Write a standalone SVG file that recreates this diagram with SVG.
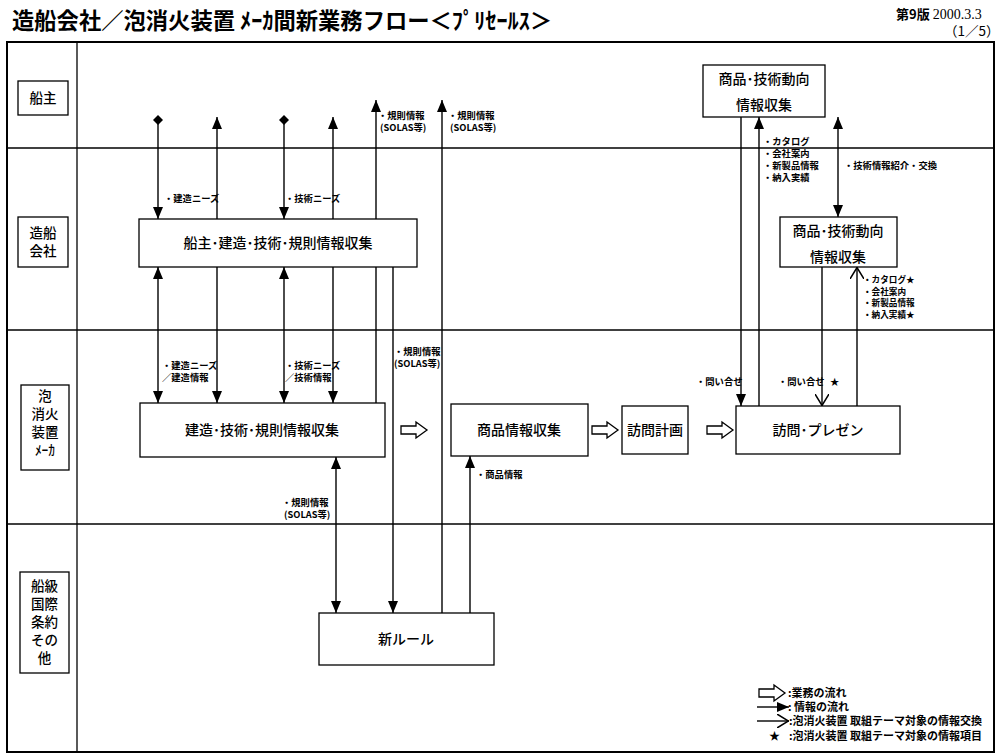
<svg xmlns="http://www.w3.org/2000/svg" width="1000" height="756" viewBox="0 0 1000 756">
<style>
  .frame{fill:none;stroke:#000;stroke-width:2}
  .lane{stroke:#000;stroke-width:1.3}
  .box{fill:#fff;stroke:#000;stroke-width:1.3}
  .lbox{fill:#fff;stroke:#000;stroke-width:1.3}
  .t{font-family:"Noto Sans CJK JP","Noto Sans CJK SC",sans-serif;fill:#000}
  .node{font-size:14px;text-anchor:middle;font-weight:500}
  .lanet{font-size:13.5px;text-anchor:middle;font-weight:500}
  .sm{font-size:9.3px;font-weight:bold}
  .sm2{font-size:8.6px;font-weight:bold}
  .leg{font-size:11px;font-weight:bold}
  .c{fill:none;stroke:#000;stroke-width:1.4}
  .blk{fill:#fff;stroke:#000;stroke-width:1.3}
</style>
<defs>
  <marker id="ar" viewBox="0 0 12 10" refX="12" refY="5" markerWidth="12" markerHeight="10" markerUnits="userSpaceOnUse" orient="auto-start-reverse">
    <path d="M0,0 L12,5 L0,10 Z" fill="#000"/>
  </marker>
  <marker id="dm" viewBox="0 0 10 10" refX="5" refY="5" markerWidth="10" markerHeight="10" markerUnits="userSpaceOnUse" orient="auto">
    <path d="M0,5 L5,0 L10,5 L5,10 Z" fill="#000"/>
  </marker>
  <marker id="vv" viewBox="0 0 12 14" refX="12" refY="7" markerWidth="12" markerHeight="14" markerUnits="userSpaceOnUse" orient="auto">
    <path d="M0,0 L11.5,7 L0,14" fill="none" stroke="#000" stroke-width="1.5"/>
  </marker>
  <path id="blkar" class="blk" d="M0,-4 H15 V-8 L26,0 L15,8 V4 H0 Z"/>
</defs>

<rect width="1000" height="756" fill="#fff"/>

<g id="header">
  <text class="t" x="12" y="29" font-size="22.3" font-weight="bold">造船会社／泡消火装置 ﾒｰｶ間新業務フロー＜ﾌﾟﾘｾｰﾙｽ＞</text>
  <text class="t" x="896" y="19" font-size="13" font-weight="bold">第9版 <tspan font-family="Liberation Serif" font-weight="normal" font-size="14">2000.3.3</tspan></text>
  <text class="t" x="944" y="36" font-size="13.5">（1／5）</text>
</g>

<g id="swimlanes">
  <rect class="frame" x="7" y="42" width="987" height="710"/>
  <line class="lane" x1="77" y1="42" x2="77" y2="752"/>
  <line class="lane" x1="7" y1="148" x2="994" y2="148"/>
  <line class="lane" x1="7" y1="330" x2="994" y2="330"/>
  <line class="lane" x1="7" y1="524" x2="994" y2="524"/>
</g>

<g id="lane-labels">
  <g id="lane-owner">
    <rect class="lbox" x="18" y="81" width="50" height="34"/>
    <text class="t lanet" x="43" y="103">船主</text>
  </g>
  <g id="lane-shipyard">
    <rect class="lbox" x="18" y="217" width="50" height="50"/>
    <text class="t lanet" x="43" y="238">造船</text>
    <text class="t lanet" x="43" y="256">会社</text>
  </g>
  <g id="lane-maker">
    <rect class="lbox" x="21" y="385" width="48" height="85"/>
    <text class="t lanet" x="45" y="401">泡</text>
    <text class="t lanet" x="45" y="419">消火</text>
    <text class="t lanet" x="45" y="437">装置</text>
    <text class="t lanet" x="45" y="455" font-size="14">ﾒｰｶ</text>
  </g>
  <g id="lane-class">
    <rect class="lbox" x="20" y="572" width="49" height="101"/>
    <text class="t lanet" x="44.5" y="591">船級</text>
    <text class="t lanet" x="44.5" y="609">国際</text>
    <text class="t lanet" x="44.5" y="627">条約</text>
    <text class="t lanet" x="44.5" y="645">その</text>
    <text class="t lanet" x="44.5" y="663">他</text>
  </g>
</g>

<g id="connectors">
  <path class="c" d="M158,120 V219" marker-start="url(#dm)" marker-end="url(#ar)"/>
  <path class="c" d="M217,219 V117" marker-end="url(#ar)"/>
  <path class="c" d="M284,120 V219" marker-start="url(#dm)" marker-end="url(#ar)"/>
  <path class="c" d="M333,219 V117" marker-end="url(#ar)"/>
  <path class="c" d="M376,403 V100" marker-end="url(#ar)"/>
  <path class="c" d="M442,613 V100" marker-end="url(#ar)"/>
  <path class="c" d="M393,267 V613" marker-end="url(#ar)"/>
  <path class="c" d="M158,267 V403" marker-start="url(#ar)" marker-end="url(#ar)"/>
  <path class="c" d="M217,267 V403" marker-end="url(#ar)"/>
  <path class="c" d="M284,267 V403" marker-start="url(#ar)" marker-end="url(#ar)"/>
  <path class="c" d="M333,267 V403" marker-end="url(#ar)"/>
  <path class="c" d="M336,457 V613" marker-start="url(#ar)" marker-end="url(#ar)"/>
  <path class="c" d="M470,613 V456" marker-end="url(#ar)"/>
  <path class="c" d="M741,117 V406" marker-end="url(#ar)"/>
  <path class="c" d="M759,406 V117" marker-end="url(#ar)"/>
  <path class="c" d="M838,117 V217" marker-start="url(#ar)" marker-end="url(#ar)"/>
  <path class="c" d="M822,267 V406" marker-end="url(#vv)"/>
  <path class="c" d="M857,406 V267" marker-end="url(#vv)"/>
  <use href="#blkar" x="401" y="430"/>
  <use href="#blkar" x="592" y="430"/>
  <use href="#blkar" x="707" y="430"/>
</g>

<g id="connector-labels">
  <text class="t sm" x="164" y="202">・建造ニーズ</text>
  <text class="t sm" x="285" y="202">・技術ニーズ</text>
  <text class="t sm" x="378" y="119">・規則情報</text>
  <text class="t sm" x="380" y="131">(SOLAS等)</text>
  <text class="t sm" x="448" y="119">・規則情報</text>
  <text class="t sm" x="450" y="131">(SOLAS等)</text>
  <text class="t sm" x="162" y="369">・建造ニーズ</text>
  <text class="t sm" x="162" y="381">／建造情報</text>
  <text class="t sm" x="285" y="369">・技術ニーズ</text>
  <text class="t sm" x="285" y="381">／技術情報</text>
  <text class="t sm" x="394" y="355">・規則情報</text>
  <text class="t sm" x="394" y="367">(SOLAS等)</text>
  <text class="t sm" x="282" y="506">・規則情報</text>
  <text class="t sm" x="284" y="518">(SOLAS等)</text>
  <text class="t sm" x="476" y="478">・商品情報</text>
  <text class="t sm" x="763" y="145">・カタログ</text>
  <text class="t sm" x="763" y="157">・会社案内</text>
  <text class="t sm" x="763" y="169">・新製品情報</text>
  <text class="t sm" x="763" y="181">・納入実績</text>
  <text class="t sm" x="844" y="169">・技術情報紹介・交換</text>
  <text class="t sm2" x="863" y="283">・カタログ★</text>
  <text class="t sm2" x="863" y="294.5">・会社案内</text>
  <text class="t sm2" x="863" y="306">・新製品情報</text>
  <text class="t sm2" x="863" y="317.5">・納入実績★</text>
  <text class="t sm" x="696" y="385">・問い合せ</text>
  <text class="t sm" x="778" y="385">・問い合せ</text>
  <text class="t sm" x="830" y="385">★</text>
</g>

<g id="n-shipyard">
  <rect class="box" x="139" y="219" width="278" height="48"/>
  <text class="t node" x="278" y="248">船主･建造･技術･規則情報収集</text>
</g>
<g id="n-maker">
  <rect class="box" x="140" y="403" width="245" height="54"/>
  <text class="t node" x="262" y="435">建造･技術･規則情報収集</text>
</g>
<g id="n-product">
  <rect class="box" x="451" y="404" width="137" height="52"/>
  <text class="t node" x="519" y="435">商品情報収集</text>
</g>
<g id="n-plan">
  <rect class="box" x="622" y="406" width="66" height="48"/>
  <text class="t node" x="655" y="435">訪問計画</text>
</g>
<g id="n-visit">
  <rect class="box" x="736" y="406" width="164" height="48"/>
  <text class="t node" x="818" y="435">訪問･プレゼン</text>
</g>
<g id="n-trend-owner">
  <rect class="box" x="703" y="65" width="122" height="52"/>
  <text class="t node" x="764" y="84">商品･技術動向</text>
  <text class="t node" x="764" y="110">情報収集</text>
</g>
<g id="n-trend-yard">
  <rect class="box" x="780" y="217" width="117" height="50"/>
  <text class="t node" x="838" y="236">商品･技術動向</text>
  <text class="t node" x="838" y="262">情報収集</text>
</g>
<g id="n-rule">
  <rect class="box" x="319" y="613" width="175" height="52"/>
  <text class="t node" x="406" y="644">新ルール</text>
</g>

<g id="legend">
  <use href="#blkar" x="759" y="693"/>
  <text class="t leg" x="788" y="697">:業務の流れ</text>
  <path class="c" d="M757,707 H789" marker-end="url(#ar)"/>
  <text class="t leg" x="788" y="711">: 情報の流れ</text>
  <path class="c" d="M757,721 H789" marker-end="url(#vv)"/>
  <text class="t leg" x="789" y="725">:泡消火装置 取組テーマ対象の情報交換</text>
  <text class="t leg" x="769" y="740">★</text>
  <text class="t leg" x="789" y="740">:泡消火装置 取組テーマ対象の情報項目</text>
</g>
</svg>
